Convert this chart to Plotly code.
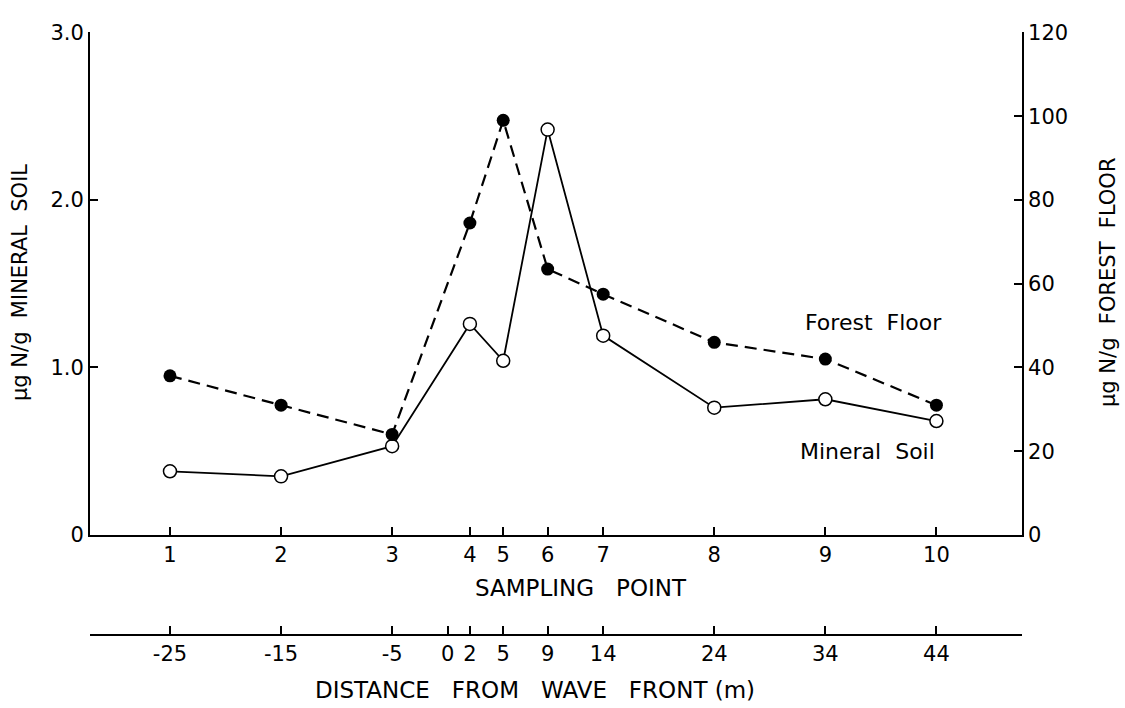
import plotly.graph_objects as go

# Sampling points along the transect and their distance from the wave front (m)
sampling_points = ["1", "2", "3", "4", "5", "6", "7", "8", "9", "10"]
distance_m = [-25, -15, -5, 2, 5, 9, 14, 24, 34, 44]

# Nitrogen concentrations at each sampling point
mineral_soil = [0.38, 0.35, 0.53, 1.26, 1.04, 2.42, 1.19, 0.76, 0.81, 0.68]   # µg N/g, left axis
forest_floor = [38, 31, 24, 74.5, 99, 63.5, 57.5, 46, 42, 31]                 # µg N/g, right axis

# Tick labels for the distance scale
distance_ticks = [-25, -15, -5, 0, 2, 5, 9, 14, 24, 34, 44]
distance_labels = ["-25", "-15", "-5", "0", "2", "5", "9", "14", "24", "34", "44"]

left_ticks = [0, 1, 2, 3]
left_labels = ["0", "1.0", "2.0", "3.0"]
right_ticks = [0, 20, 40, 60, 80, 100, 120]

FONT = "DejaVu Sans"
X_RANGE = [-32.2, 51.7]
W, H = 1125, 708
sp = "\u00a0"
gap = sp * 3

fig = go.Figure()

# Mineral soil: open circles, solid line, left axis
fig.add_trace(go.Scatter(
    x=distance_m, y=mineral_soil, xaxis="x", yaxis="y",
    mode="lines+markers", name="Mineral Soil",
    line=dict(color="black", width=1.8),
    marker=dict(symbol="circle", size=13, color="white",
                line=dict(color="black", width=1.5)),
))

# Forest floor: filled circles, dashed line, right axis
fig.add_trace(go.Scatter(
    x=distance_m, y=forest_floor, xaxis="x2", yaxis="y2",
    mode="lines+markers", name="Forest Floor",
    line=dict(color="black", width=2.2, dash="12px,7px"),
    marker=dict(symbol="circle", size=13, color="black"),
))

axis_common = dict(
    ticks="inside", ticklen=8, tickwidth=1.5, tickcolor="black",
    showline=True, linecolor="black",
    showgrid=False, zeroline=False, automargin=False,
)


def paper_text(px, py, text, size=21, angle=0):
    """Text placed by pixel position on the page, centred on (px, py)."""
    return dict(x=px / W, y=1 - py / H, xref="paper", yref="paper",
                xanchor="center", yanchor="middle", text=text,
                textangle=angle, showarrow=False, font=dict(size=size))


fig.update_layout(
    width=W, height=H,
    margin=dict(l=0, r=0, t=0, b=0),
    paper_bgcolor="white", plot_bgcolor="white",
    showlegend=False,
    font=dict(family=FONT, color="black", size=20),
    xaxis=dict(
        domain=[0.08, 0.9084], range=X_RANGE, anchor="y",
        tickmode="array", tickvals=distance_m, ticktext=sampling_points,
        linewidth=2.2, tickfont=dict(size=21), **axis_common,
    ),
    xaxis2=dict(
        overlaying="x", anchor="free", position=0.1031, range=X_RANGE,
        tickmode="array", tickvals=distance_ticks, ticktext=distance_labels,
        linewidth=2.2, tickfont=dict(size=21), **axis_common,
    ),
    yaxis=dict(
        domain=[0.2444, 0.9542], range=[0, 3], anchor="x",
        tickmode="array", tickvals=left_ticks, ticktext=left_labels,
        linewidth=1.8, tickfont=dict(size=21), **axis_common,
    ),
    yaxis2=dict(
        overlaying="y", side="right", range=[0, 120], anchor="x2",
        tickmode="array", tickvals=right_ticks,
        linewidth=1.8, tickfont=dict(size=21), **axis_common,
    ),
    annotations=[
        # axis titles
        paper_text(20, 283, f"µg{sp}N/g{sp}{sp}MINERAL{sp}{sp}SOIL", angle=-90),
        paper_text(1108, 282, f"µg{sp}N/g{sp}{sp}FOREST{sp}{sp}FLOOR", angle=-90),
        paper_text(581, 588, f"SAMPLING{gap}POINT", size=23),
        paper_text(535, 690, f"DISTANCE{gap}FROM{gap}WAVE{gap}FRONT{sp}(m)", size=23),
        # series labels
        dict(x=38.3, y=1.27, xref="x", yref="y", text=f"Forest{sp}{sp}Floor",
             showarrow=False, font=dict(size=22)),
        dict(x=37.8, y=0.50, xref="x", yref="y", text=f"Mineral{sp}{sp}Soil",
             showarrow=False, font=dict(size=22)),
    ],
)

fig.write_html("out.html")
